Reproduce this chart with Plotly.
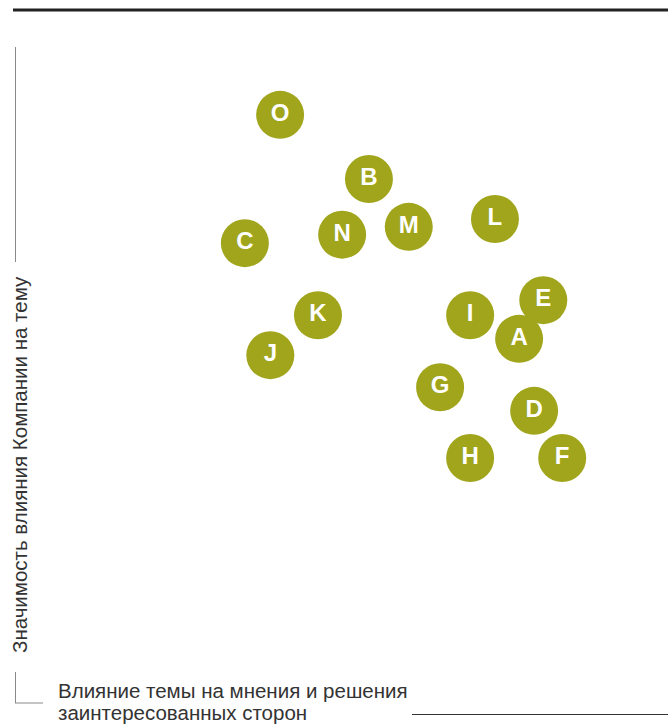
import plotly.graph_objects as go

# Data (arbitrary 0-10 scale)
topics = ["O", "B", "C", "N", "M", "L", "E", "I", "K", "A", "J", "G", "D", "H", "F"]
stakeholder_influence = [4.06, 5.42, 3.52, 5.01, 6.03, 7.35, 8.09, 6.97, 4.64, 7.72, 3.91, 6.51, 7.95, 6.97, 8.38]
company_impact = [8.98, 8.00, 7.02, 7.15, 7.27, 7.39, 6.15, 5.92, 5.92, 5.56, 5.31, 4.82, 4.46, 3.74, 3.74]

y_title = "Значимость влияния Компании на тему"
x_title_lines = ["Влияние темы на мнения и решения", "заинтересованных сторон"]

W, H = 668, 724
BUBBLE = "#A0A51B"
TEXT = "#333333"
AXIS = "#8a8a8a"
FONT = "Liberation Sans, Arial, Helvetica, sans-serif"

def px(x):
    return x / W

def py(y):
    return 1 - y / H

fig = go.Figure()
fig.add_trace(go.Scatter(
    x=stakeholder_influence, y=company_impact, text=topics,
    mode="markers+text", textposition="middle center",
    marker=dict(size=48, color=BUBBLE, line=dict(width=0)),
    textfont=dict(family=FONT, size=24, color="white", weight="bold"),
    hoverinfo="text", showlegend=False,
))

shapes = [
    dict(type="line", xref="paper", yref="paper", x0=px(13), x1=px(668), y0=py(10), y1=py(10),
         line=dict(color="#222222", width=3)),
    dict(type="line", xref="paper", yref="paper", x0=px(15.5), x1=px(15.5), y0=py(47), y1=py(262),
         line=dict(color=AXIS, width=1)),
    dict(type="line", xref="paper", yref="paper", x0=px(15.5), x1=px(15.5), y0=py(672), y1=py(703),
         line=dict(color=AXIS, width=1)),
    dict(type="line", xref="paper", yref="paper", x0=px(15), x1=px(43), y0=py(703), y1=py(703),
         line=dict(color=AXIS, width=1)),
    dict(type="line", xref="paper", yref="paper", x0=px(412), x1=px(668), y0=py(714.5), y1=py(714.5),
         line=dict(color="#333333", width=1)),
]

annotations = [
    dict(xref="paper", yref="paper", x=px(19), y=py(465), text=y_title, textangle=-90,
         showarrow=False, xanchor="center", yanchor="middle",
         font=dict(family=FONT, size=20.5, color=TEXT)),
    dict(xref="paper", yref="paper", x=px(56), y=py(690), text=x_title_lines[0], align="left",
         showarrow=False, xanchor="left", yanchor="middle",
         font=dict(family=FONT, size=20.5, color=TEXT)),
    dict(xref="paper", yref="paper", x=px(56), y=py(712), text=x_title_lines[1], align="left",
         showarrow=False, xanchor="left", yanchor="middle",
         font=dict(family=FONT, size=20.5, color=TEXT)),
]

fig.update_layout(
    width=W, height=H,
    margin=dict(l=0, r=0, t=0, b=0),
    paper_bgcolor="white", plot_bgcolor="white",
    xaxis=dict(range=[-15 / 65.3, 10], visible=False, fixedrange=True),
    yaxis=dict(range=[-21 / 65.5, 703 / 65.5], visible=False, fixedrange=True),
    shapes=shapes, annotations=annotations,
)

fig.write_html("out.html", config={"displayModeBar": False},
               post_script="document.body.style.margin='0';document.body.style.overflow='hidden';")
